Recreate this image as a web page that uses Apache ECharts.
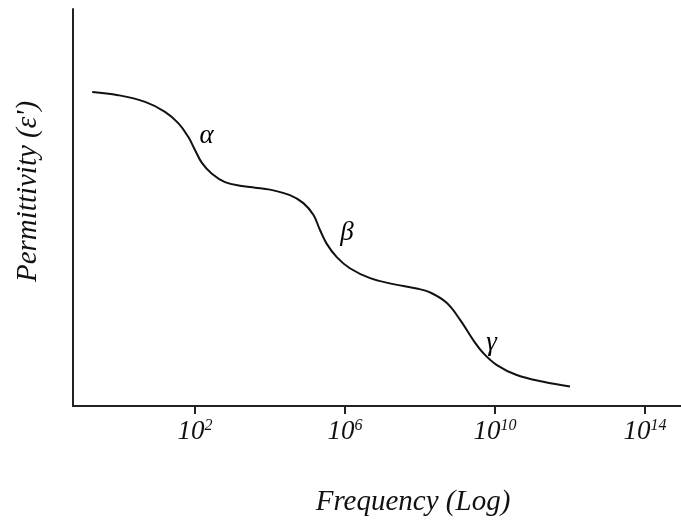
<!DOCTYPE html>
<html>
<head>
<meta charset="utf-8">
<script src="https://cdn.jsdelivr.net/npm/echarts@6/dist/echarts.min.js"></script>
<style>
html,body{margin:0;padding:0;background:#fff;}
#chart{width:681px;height:523px;}
</style>
</head>
<body>
<div id="chart"></div>
<script>
// log10(frequency) of curve points
var logFreq = [-0.74, -0.05, 0.67, 1.2, 1.56, 1.82, 2.0, 2.18, 2.45, 2.8, 3.25, 3.6, 4.0, 4.53, 4.89, 5.16, 5.33, 5.51, 5.78, 6.13, 6.67, 7.29, 7.91, 8.27, 8.71, 9.07, 9.42, 9.69, 10.05, 10.58, 11.29, 12.0];
// permittivity (arbitrary units)
var permittivity = [79.1, 78.3, 76.6, 74.1, 71.2, 67.8, 64.5, 61.3, 58.5, 56.4, 55.4, 55.0, 54.5, 53.1, 51.1, 48.1, 44.4, 40.9, 37.5, 34.7, 32.2, 30.7, 29.6, 28.6, 26.0, 21.7, 16.6, 13.3, 10.3, 7.8, 6.1, 4.9];
// tick exponents
var tickExponents = [2, 6, 10, 14];
// relaxation annotations
var relaxNames = ['α', 'β', 'γ'];
var relaxX = [2.31, 6.05, 9.91];
var relaxY = [68.1, 43.5, 15.8];

var serif = 'Liberation Serif';
var curve = logFreq.map(function (x, i) { return [x, permittivity[i]]; });
var notes = relaxNames.map(function (n, i) { return { name: n, value: [relaxX[i], relaxY[i]] }; });

var chart = echarts.init(document.getElementById('chart'));
chart.setOption({
  animation: false,
  backgroundColor: '#fff',
  grid: { left: 73, right: 0, top: 9, bottom: 117, containLabel: false },
  xAxis: {
    type: 'value',
    min: -1.253,
    max: 14.96,
    splitLine: { show: false },
    axisLine: { show: true, onZero: false, lineStyle: { color: '#222', width: 2 } },
    axisTick: { show: true, customValues: tickExponents, length: 8, lineStyle: { color: '#222', width: 2 } },
    axisLabel: {
      show: true,
      customValues: tickExponents,
      margin: 12,
      formatter: function (v) { return '{b|10}{s|' + v + '}'; },
      rich: {
        b: { fontFamily: serif, fontStyle: 'italic', fontSize: 27, lineHeight: 28, color: '#111' },
        s: { fontFamily: serif, fontStyle: 'italic', fontSize: 16, lineHeight: 12, verticalAlign: 'top', color: '#111' }
      }
    },
    name: 'Frequency (Log)',
    nameLocation: 'middle',
    nameGap: 82,
    nameTextStyle: { fontFamily: serif, fontStyle: 'italic', fontSize: 29, color: '#111', padding: [0, 0, 0, 72] }
  },
  yAxis: {
    type: 'value',
    min: 0,
    max: 100,
    splitLine: { show: false },
    axisLine: { show: true, onZero: false, lineStyle: { color: '#222', width: 2 } },
    axisTick: { show: false },
    axisLabel: { show: false },
    name: "Permittivity (ε')",
    nameLocation: 'middle',
    nameGap: 30,
    nameTextStyle: { fontFamily: serif, fontStyle: 'italic', fontSize: 29, color: '#111', padding: [0, 0, 0, 32] }
  },
  series: [
    {
      type: 'line',
      data: curve,
      smooth: 0.4,
      showSymbol: false,
      symbol: 'none',
      lineStyle: { color: '#111', width: 2 }
    },
    {
      type: 'scatter',
      data: notes,
      symbolSize: 1,
      itemStyle: { color: '#fff', opacity: 0 },
      label: {
        show: true,
        position: 'inside',
        formatter: '{b}',
        fontFamily: serif,
        fontStyle: 'italic',
        fontSize: 27,
        color: '#000',
        opacity: 1
      }
    }
  ]
});
</script>
</body>
</html>
